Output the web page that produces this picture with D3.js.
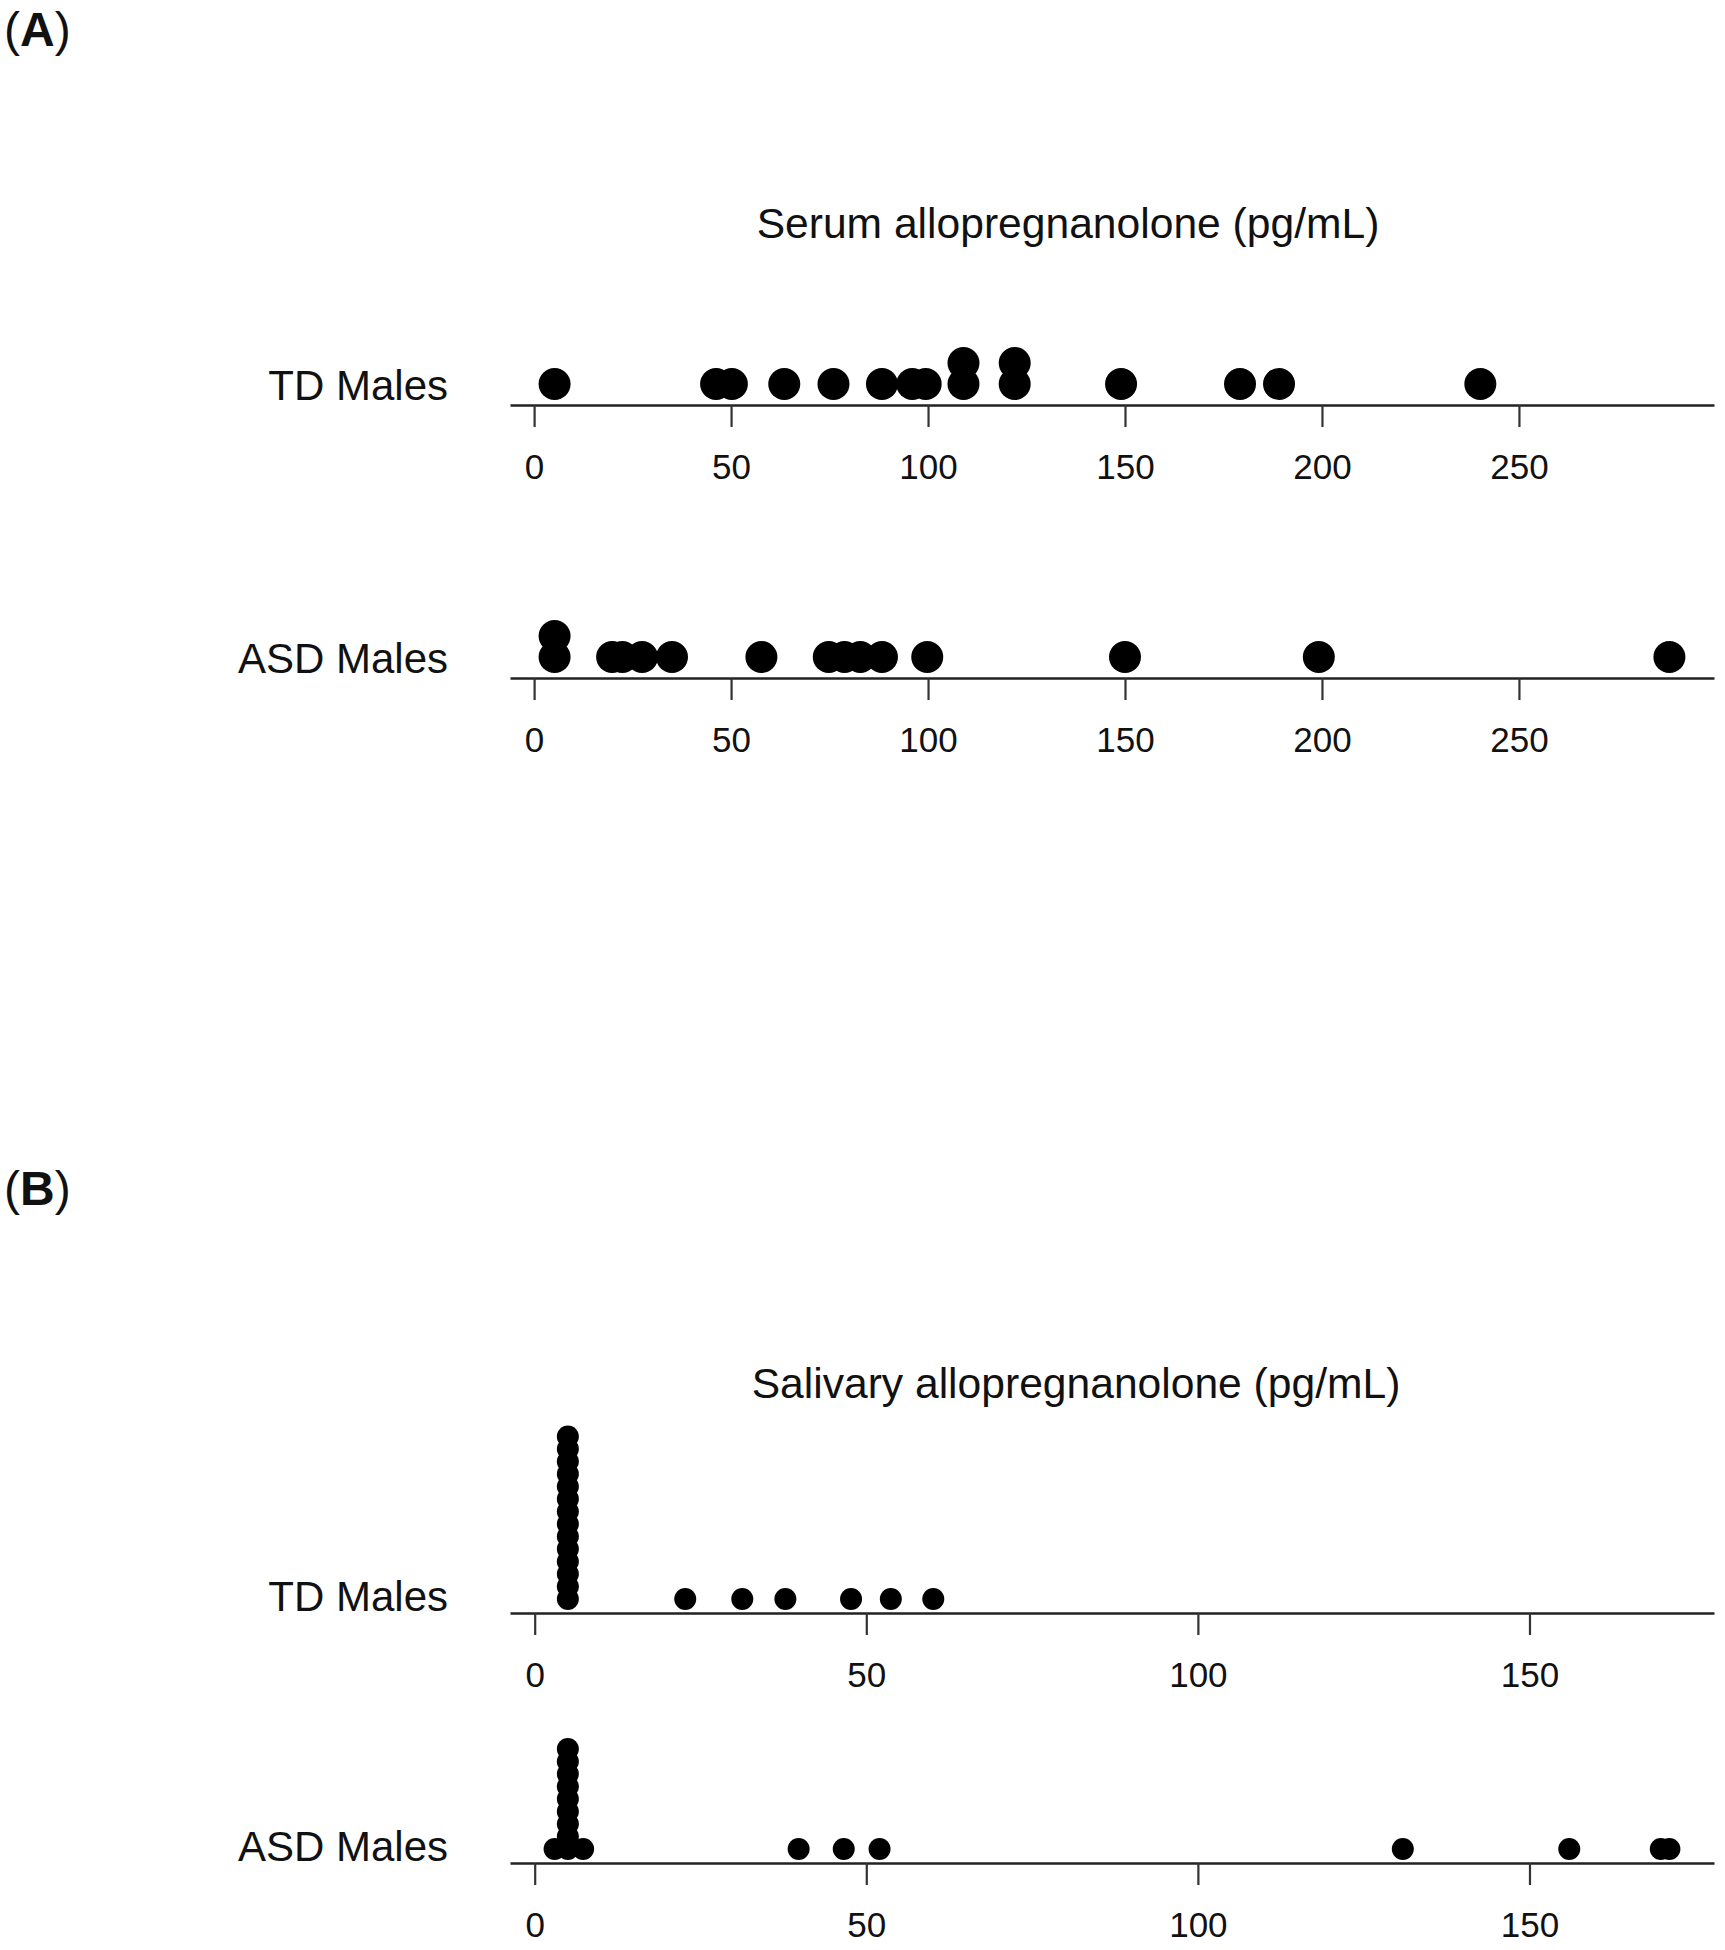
<!DOCTYPE html>
<html>
<head>
<meta charset="utf-8">
<script src="https://cdn.jsdelivr.net/npm/d3@7"></script>
<style>
  html, body { margin: 0; padding: 0; background: #fff; }
  svg text { font-family: "Liberation Sans", Arial, Helvetica, sans-serif; fill: #111; }
</style>
</head>
<body>
<svg id="chart" width="1725" height="1950"></svg>
<script>
// ---- Data ----
const groups = ["TD Males", "ASD Males"];

const serumTD  = [5.2, 46.2, 50.2, 63.5, 76, 88.3, 96, 99.4, 109, 109, 122, 122, 149, 179.2, 189.1, 240.2];
const serumASD = [5.2, 5.2, 19.8, 22.4, 27.4, 35, 57.7, 74.8, 78.8, 82.8, 88.3, 99.8, 150, 199.2, 288.2];

const salivaTD  = [5, 5, 5, 5, 5, 5, 5, 5, 5, 5, 5, 5, 5, 5, 22.7, 31.3, 37.8, 47.7, 53.7, 60.1];
const salivaASD = [3, 5, 5, 5, 5, 5, 5, 5, 5, 5, 7.3, 39.8, 46.6, 52.0, 130.9, 156, 169.8, 171.1];

const serumTicks  = [0, 50, 100, 150, 200, 250];
const salivaTicks = [0, 50, 100, 150];

const panelLabels = ["A", "B"];
const titles = ["Serum allopregnanolone (pg/mL)", "Salivary allopregnanolone (pg/mL)"];

// ---- Drawing ----
const svg = d3.select("#chart");
const X0 = 510, X1 = 1714;

function panel(cfg) {
  const all = cfg.series.flat();
  const ext = d3.extent(all);
  const pad = (ext[1] - ext[0]) * 0.04;
  const x = d3.scaleLinear().domain([ext[0] - pad, ext[1] + pad]).range([X0, X1]);

  // panel letter
  const pl = svg.append("text")
    .attr("x", 4).attr("y", cfg.letterY)
    .style("font-size", "48px");
  pl.append("tspan").text("(");
  pl.append("tspan").style("font-weight", "bold").text(cfg.letter);
  pl.append("tspan").text(")");

  // title
  svg.append("text")
    .attr("x", cfg.titleX).attr("y", cfg.titleY)
    .attr("text-anchor", "middle")
    .style("font-size", "42.6px")
    .text(cfg.title);

  cfg.series.forEach((vals, i) => {
    const ay = cfg.axisY[i];
    const g = svg.append("g").attr("transform", `translate(0,${ay})`);
    const axis = d3.axisBottom(x).tickValues(cfg.ticks).tickSize(22).tickSizeOuter(0).tickPadding(27.6).tickFormat(d3.format("d"));
    g.call(axis);
    g.select(".domain").attr("stroke", "#222").attr("stroke-width", 2.6);
    g.selectAll(".tick line").attr("stroke", "#333").attr("stroke-width", 2.2);
    g.selectAll(".tick text").style("font-size", "35px").attr("fill", "#111")
      .style("font-family", '"Liberation Sans", Arial, Helvetica, sans-serif');

    // group label
    svg.append("text")
      .attr("x", 448).attr("y", ay + cfg.labelDy)
      .attr("text-anchor", "end")
      .style("font-size", "42px")
      .text(groups[i]);

    // stacked points (identical values stack upward)
    const counts = new Map();
    const pts = vals.map(v => {
      const k = counts.get(v) || 0;
      counts.set(v, k + 1);
      return { v, k };
    });
    svg.append("g").selectAll("circle").data(pts).join("circle")
      .attr("cx", d => x(d.v))
      .attr("cy", d => ay - cfg.base - d.k * cfg.step)
      .attr("r", cfg.r)
      .attr("fill", "#000");
  });
}

panel({
  letter: panelLabels[0], letterY: 46, title: titles[0], titleX: 1068, titleY: 238,
  series: [serumTD, serumASD], ticks: serumTicks, axisY: [405, 678],
  labelDy: -5, r: 16, base: 21, step: 21
});

panel({
  letter: panelLabels[1], letterY: 1205, title: titles[1], titleX: 1076, titleY: 1398,
  series: [salivaTD, salivaASD], ticks: salivaTicks, axisY: [1613, 1863],
  labelDy: -2, r: 11, base: 14, step: 12.5
});
</script>
</body>
</html>
